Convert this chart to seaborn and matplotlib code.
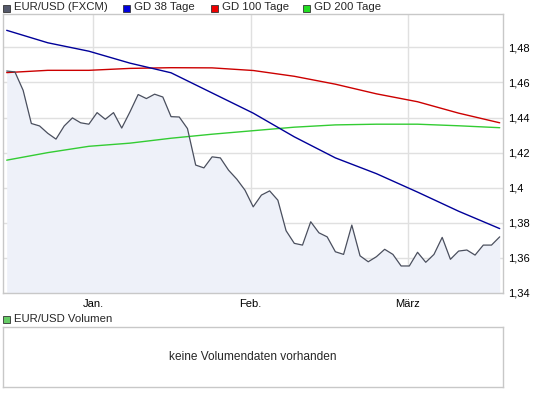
import numpy as np
import pandas as pd
import seaborn as sns
import matplotlib
matplotlib.use("Agg")
import matplotlib.pyplot as plt
from matplotlib.patches import Rectangle
from matplotlib.ticker import FuncFormatter

# EUR/USD closing prices, one per trading day
kurs = [1.4665, 1.4660, 1.4555, 1.4366, 1.4352, 1.4310, 1.4277, 1.4352, 1.4398, 1.4370,
        1.4362, 1.4428, 1.4390, 1.4428, 1.4340, 1.4432, 1.4531, 1.4508, 1.4533, 1.4517,
        1.4405, 1.4403, 1.4337, 1.4129, 1.4113, 1.4176, 1.4170, 1.4100, 1.4049, 1.3986,
        1.3891, 1.3958, 1.3982, 1.3929, 1.3755, 1.3683, 1.3673, 1.3806, 1.3743, 1.3720,
        1.3635, 1.3620, 1.3787, 1.3612, 1.3578, 1.3607, 1.3649, 1.3620, 1.3554, 1.3554,
        1.3632, 1.3575, 1.3620, 1.3717, 1.3592, 1.3639, 1.3645, 1.3616, 1.3673, 1.3673,
        1.3720]

# moving averages, sampled every 5th trading day
ma_tage = [0, 5, 10, 15, 20, 25, 30, 35, 40, 45, 50, 55, 60]
gd38 = [1.4897, 1.4826, 1.4778, 1.4710, 1.4655, 1.4540, 1.4425, 1.4290, 1.4170, 1.4080,
        1.3975, 1.3866, 1.3767]
gd100 = [1.4656, 1.4669, 1.4669, 1.4680, 1.4684, 1.4683, 1.4668, 1.4635, 1.4590, 1.4535,
         1.4490, 1.4425, 1.4370]
gd200 = [1.4157, 1.4200, 1.4236, 1.4254, 1.4282, 1.4305, 1.4325, 1.4345, 1.4358, 1.4362,
         1.4362, 1.4353, 1.4342]

monate = ["Jan.", "Feb.", "März"]
monat_pos = [10.5, 29.7, 48.8]
y_ticks = [1.34, 1.36, 1.38, 1.40, 1.42, 1.44, 1.46, 1.48]

legende = ["EUR/USD (FXCM)", "GD 38 Tage", "GD 100 Tage", "GD 200 Tage"]

###################################### STYLE ######################################

sns.set_theme(style="white")
plt.rcParams["font.family"] = ["Liberation Sans", "DejaVu Sans"]
plt.rcParams["font.size"] = 8

c_kurs = "#4a4f5e"
c_fill = "#eef1f9"
c_gd38 = "#000099"
c_gd100 = "#cc0000"
c_gd200 = "#33cc33"
c_grid = "#e0e0e0"
c_frame = "#c8c8c8"

W, H = 545, 395
fig = plt.figure(figsize=(W / 100, H / 100), dpi=100)


def px_rect(x0, y0, x1, y1):
    # figure fraction box from pixel coords (top-left origin)
    return [x0 / W, 1 - y1 / H, (x1 - x0) / W, (y1 - y0) / H]


###################################### MAIN PANEL ######################################

ax = fig.add_axes(px_rect(3, 14, 503, 293))
df = pd.DataFrame({"tag": np.arange(len(kurs)), "kurs": kurs})
df_ma = pd.DataFrame({"tag": ma_tage, "gd38": gd38, "gd100": gd100, "gd200": gd200})

ax.fill_between(df["tag"], df["kurs"], 1.30, color=c_fill, zorder=1, lw=0)
sns.lineplot(data=df_ma, x="tag", y="gd200", ax=ax, color=c_gd200, lw=1.0, zorder=3)
sns.lineplot(data=df_ma, x="tag", y="gd100", ax=ax, color=c_gd100, lw=1.0, zorder=3)
sns.lineplot(data=df_ma, x="tag", y="gd38", ax=ax, color=c_gd38, lw=1.0, zorder=3)
sns.lineplot(data=df, x="tag", y="kurs", ax=ax, color=c_kurs, lw=0.9, zorder=4)

ax.set_xlim(-0.45, 60.4)
ax.set_ylim(1.34, 1.499)
ax.set_xlabel("")
ax.set_ylabel("")
ax.set_xticks(monat_pos)
ax.set_xticklabels(monate)
ax.set_yticks(y_ticks)
ax.yaxis.set_major_formatter(FuncFormatter(lambda v, p: f"{round(v, 2):g}".replace(".", ",")))
ax.yaxis.tick_right()
ax.tick_params(axis="both", length=0, labelsize=8, colors="black")
ax.tick_params(axis="y", pad=4)
ax.tick_params(axis="x", pad=4)
ax.grid(True, color=c_grid, lw=1.0, zorder=0)
ax.set_axisbelow(True)
for s in ax.spines.values():
    s.set_color(c_frame)
    s.set_linewidth(1.0)

###################################### VOLUME PANEL ######################################

axv = fig.add_axes(px_rect(3, 327, 503, 387))
axv.set_xticks([])
axv.set_yticks([])
for s in axv.spines.values():
    s.set_color(c_frame)
    s.set_linewidth(1.0)
axv.text(0.5, 0.5, "keine Volumendaten vorhanden", transform=axv.transAxes,
         ha="center", va="center", fontsize=8.6)

###################################### LEGENDS ######################################

leg_x = [3, 123, 211, 303]
leg_col = ["#555a6b", "#0000dd", "#ee0000", "#22dd22"]
for x0, txt, col in zip(leg_x, legende, leg_col):
    fig.patches.append(Rectangle((x0 / W, 1 - 12 / H), 7 / W, 7 / H, transform=fig.transFigure,
                                 facecolor=col, edgecolor="#333333", lw=0.6))
    fig.text((x0 + 11) / W, 1 - 7.5 / H, txt, ha="left", va="center", fontsize=8.2)

fig.patches.append(Rectangle((3 / W, 1 - 323 / H), 7 / W, 7 / H, transform=fig.transFigure,
                             facecolor="#66cc66", edgecolor="#333333", lw=0.6))
fig.text(14 / W, 1 - 318.5 / H, "EUR/USD Volumen", ha="left", va="center", fontsize=8.2)

fig.savefig("out.png", dpi=100, facecolor="white")
